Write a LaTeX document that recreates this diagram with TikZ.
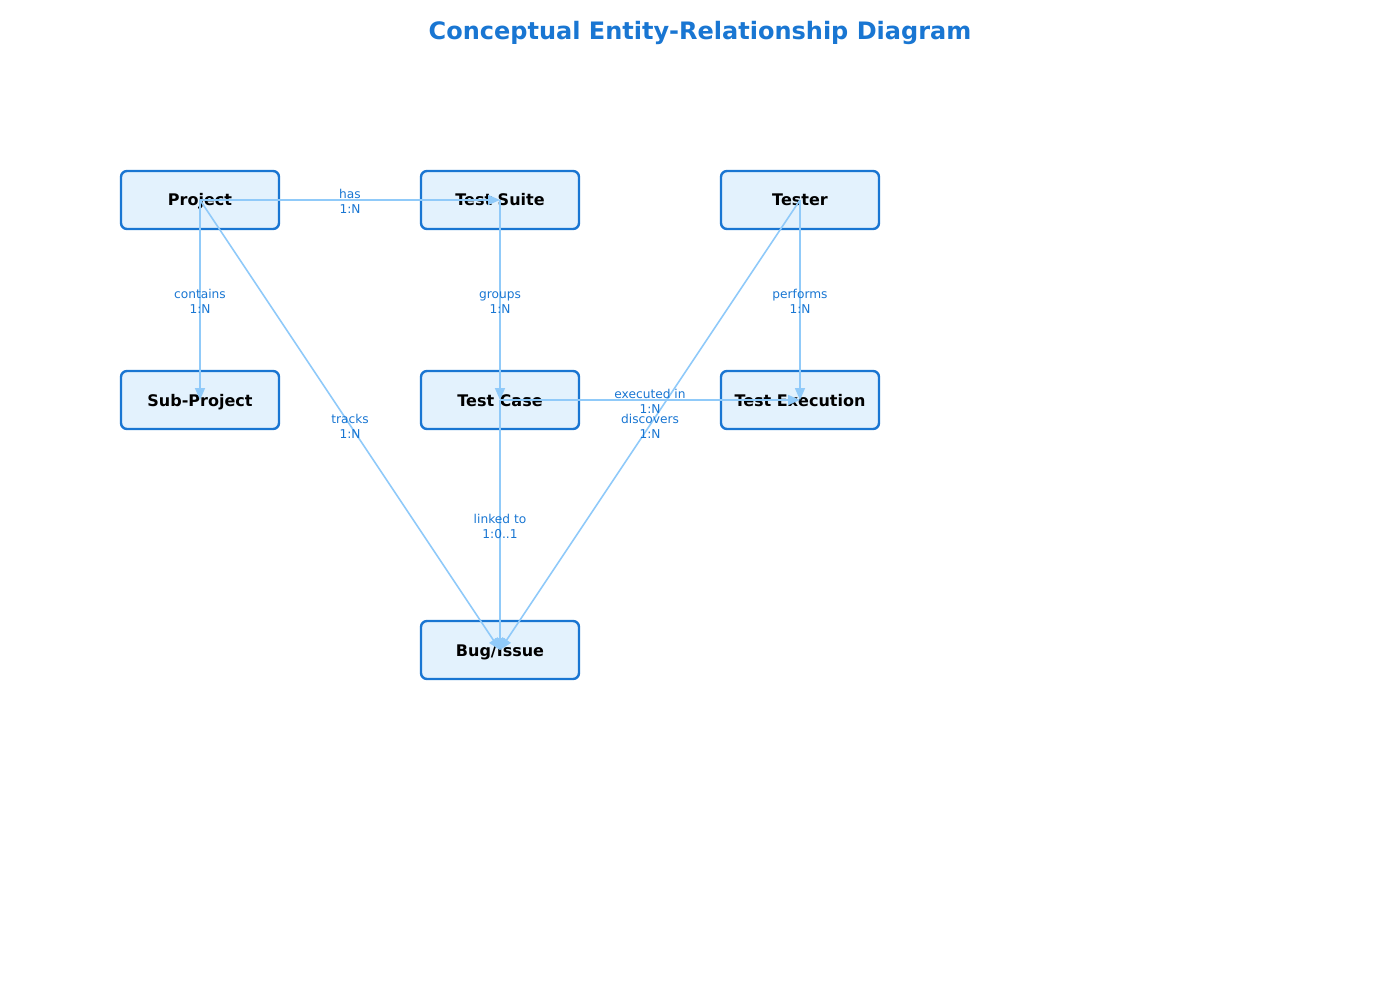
\documentclass[tikz,border=0pt]{standalone}
\usepackage{fontspec}
\setmainfont{DejaVu Sans}
\usetikzlibrary{arrows.meta}
\definecolor{boxline}{HTML}{1976D2}
\definecolor{boxfill}{HTML}{E3F2FD}
\definecolor{edgecol}{HTML}{90CAF9}
\definecolor{labcol}{HTML}{1976D2}
\tikzset{
  entity/.style={draw=boxline, fill=boxfill, line width=2.4pt, rounded corners=6pt,
    minimum width=158pt, minimum height=58pt, inner sep=0pt,
    text height=12pt, text depth=0pt,
    font=\fontsize{16}{19}\selectfont\bfseries, text=black},
  rel/.style={draw=edgecol, line width=1.6pt, -{Stealth[length=12pt,width=10pt,inset=0pt]}},
  rellabel/.style={font=\fontsize{12.2}{15}\selectfont, text=labcol, align=center, inner sep=0pt}
}
\begin{document}
\begin{tikzpicture}[x=1pt,y=-1pt]
\useasboundingbox (0,0) rectangle (1400,1000);
\node[font=\fontsize{24}{28}\selectfont\bfseries, text=boxline] (title) at (700,33) {Conceptual Entity-Relationship Diagram};
\node[entity] (project) at (200,200) {Project};
\node[entity] (suite) at (500,200) {Test Suite};
\node[entity] (tester) at (800,200) {Tester};
\node[entity] (sub) at (200,400) {Sub-Project};
\node[entity] (case) at (500,400) {Test Case};
\node[entity] (exec) at (800,400) {Test Execution};
\node[entity] (bug) at (500,650) {Bug/Issue};
\draw[rel] (project.center) -- (suite.center);
\draw[rel] (project.center) -- (sub.center);
\draw[rel] (project.center) -- (bug.center);
\draw[rel] (suite.center) -- (case.center);
\draw[rel] (case.center) -- (exec.center);
\draw[rel] (case.center) -- (bug.center);
\draw[rel] (tester.center) -- (exec.center);
\draw[rel] (tester.center) -- (bug.center);
\node[rellabel] (l1) at (350,201) {has\\1:N};
\node[rellabel] (l2) at (200,301) {contains\\1:N};
\node[rellabel] (l3) at (500,303) {groups\\1:N};
\node[rellabel] (l4) at (800,301) {performs\\1:N};
\node[rellabel] (l5) at (650,401) {executed in\\1:N};
\node[rellabel] (l6) at (350,426) {tracks\\1:N};
\node[rellabel] (l7) at (650,426) {discovers\\1:N};
\node[rellabel] (l8) at (500,526) {linked to\\1:0..1};
\end{tikzpicture}
\end{document}
